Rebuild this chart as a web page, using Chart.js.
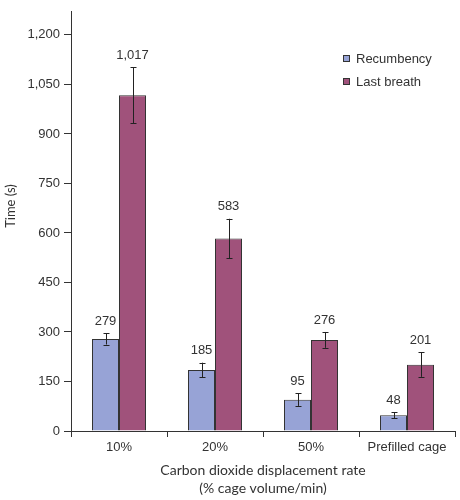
<!DOCTYPE html>
<html>
<head>
<meta charset="utf-8">
<script src="https://cdn.jsdelivr.net/npm/chart.js@4/dist/chart.umd.min.js"></script>
<style>
    body { margin: 0; background: #fff; }
    #wrap { width: 460px; height: 500px; }
</style>
</head>
<body>
<div id="wrap"><canvas id="co2Chart" width="460" height="500"></canvas></div>
<script>
// data
const categories     = ["10%", "20%", "50%", "Prefilled cage"];
const seriesNames    = ["Recumbency", "Last breath"];
const recumbency     = [279, 185, 95, 48];
const recumbencyErr  = [17, 22, 19, 9];
const lastBreath     = [1017, 583, 276, 201];
const lastBreathErr  = [85, 60, 24, 37];
const yTicks         = [0, 150, 300, 450, 600, 750, 900, 1050, 1200];
const yTitle         = "Time (s)";

const seriesColors = ["#97a3d6", "#a0527b"];
const inkColor = "#333333";
const fmt = v => v.toLocaleString("en-US");

// error bars + value labels above them
const errorBarPlugin = {
    id: "errorBars",
    afterDatasetsDraw(chart) {
        const ctx = chart.ctx;
        const yScale = chart.scales.y;
        ctx.save();
        chart.data.datasets.forEach((ds, i) => {
            const meta = chart.getDatasetMeta(i);
            meta.data.forEach((bar, j) => {
                const v = ds.data[j], e = ds.errors[j];
                const yTop = yScale.getPixelForValue(v + e);
                const yBot = yScale.getPixelForValue(v - e);
                const x = Math.round(bar.x) + 0.5;
                ctx.strokeStyle = "#222";
                ctx.lineWidth = 1;
                ctx.beginPath();
                ctx.moveTo(x, yTop); ctx.lineTo(x, yBot);
                ctx.moveTo(x - 3, Math.round(yTop) + 0.5); ctx.lineTo(x + 3, Math.round(yTop) + 0.5);
                ctx.moveTo(x - 3, Math.round(yBot) + 0.5); ctx.lineTo(x + 3, Math.round(yBot) + 0.5);
                ctx.stroke();

                ctx.fillStyle = inkColor;
                ctx.font = "13px 'Liberation Sans', Arial, sans-serif";
                ctx.textAlign = "center";
                ctx.textBaseline = "middle";
                ctx.fillText(fmt(v), bar.x, yTop - 12);
            });
        });
        ctx.restore();
    }
};

// legend inside the plot (top right) and the rotated y title
const innerLegendPlugin = {
    id: "innerLegend",
    afterDraw(chart) {
        const ctx = chart.ctx;
        ctx.save();
        ctx.font = "13px 'Liberation Sans', Arial, sans-serif";
        ctx.textBaseline = "middle";
        ctx.textAlign = "left";
        seriesNames.forEach((name, i) => {
            const cy = 58 + i * 23;
            ctx.fillStyle = seriesColors[i];
            ctx.fillRect(343, cy - 3, 7, 7);
            ctx.strokeStyle = inkColor;
            ctx.lineWidth = 1;
            ctx.strokeRect(343.5, cy - 2.5, 6, 6);
            ctx.fillStyle = inkColor;
            ctx.fillText(name, 356, cy + 1);
        });

        ctx.translate(11, 206);
        ctx.rotate(-Math.PI / 2);
        ctx.textAlign = "center";
        ctx.font = "13px Lato, 'Open Sans', sans-serif";
        ctx.fillText(yTitle, 0, 0);
        ctx.restore();
    }
};

new Chart(document.getElementById("co2Chart"), {
    type: "bar",
    data: {
        labels: categories,
        datasets: [
            { label: seriesNames[0], data: recumbency, errors: recumbencyErr,
              backgroundColor: seriesColors[0], borderColor: inkColor, borderWidth: 1,
              categoryPercentage: 0.5625, barPercentage: 1 },
            { label: seriesNames[1], data: lastBreath, errors: lastBreathErr,
              backgroundColor: seriesColors[1], borderColor: inkColor, borderWidth: 1,
              categoryPercentage: 0.5625, barPercentage: 1 }
        ]
    },
    options: {
        responsive: false,
        animation: false,
        layout: { padding: { top: 4, right: 5, left: 0, bottom: 0 } },
        plugins: {
            legend: { display: false },
            tooltip: { enabled: false }
        },
        scales: {
            x: {
                grid: { display: true, drawOnChartArea: false, drawTicks: true, tickLength: 6, color: inkColor, offset: true },
                border: { display: true, color: inkColor },
                ticks: { color: inkColor, padding: 3, font: { family: "'Liberation Sans', Arial, sans-serif", size: 13 } },
                title: {
                    display: true,
                    text: ["Carbon dioxide displacement rate", "(% cage volume/min)"],
                    color: inkColor,
                    font: { family: "Lato, 'Open Sans', sans-serif", size: 14, lineHeight: 1.286 },
                    padding: { top: 0, bottom: 3 }
                },
                afterFit: s => { s.height = 69; }
            },
            y: {
                min: 0,
                max: 1270,
                grid: { display: true, drawOnChartArea: false, drawTicks: true, tickLength: 7, color: inkColor },
                border: { display: true, color: inkColor },
                ticks: {
                    stepSize: 150,
                    includeBounds: false,
                    color: inkColor,
                    padding: 4,
                    font: { family: "'Liberation Sans', Arial, sans-serif", size: 13 },
                    callback: v => yTicks.includes(v) ? fmt(v) : null
                },
                title: { display: false },
                afterFit: s => { s.width = 71; }
            }
        }
    },
    plugins: [errorBarPlugin, innerLegendPlugin]
});
</script>
</body>
</html>
